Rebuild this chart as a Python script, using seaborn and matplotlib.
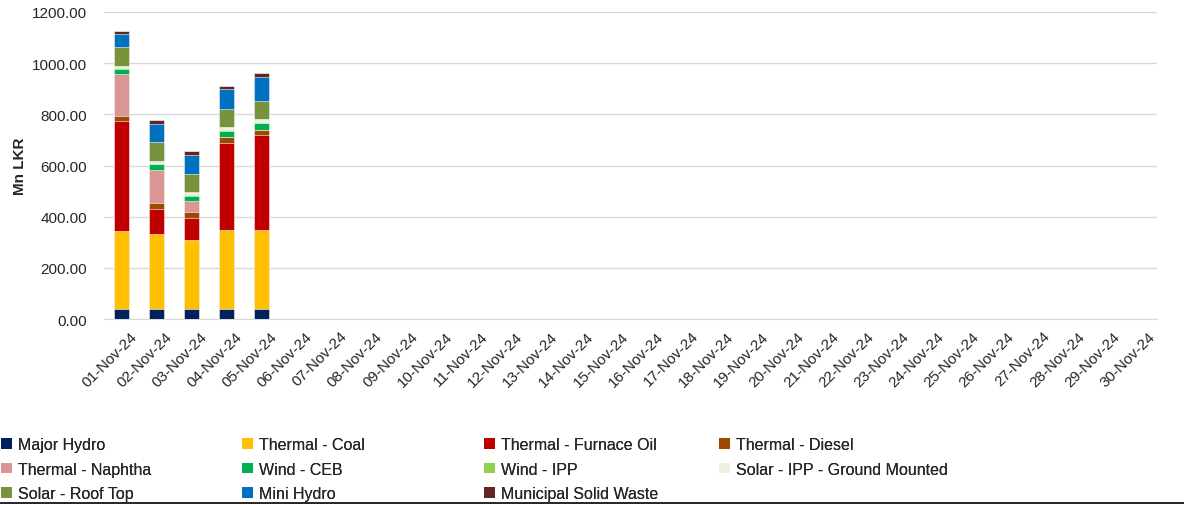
import numpy as np
import pandas as pd
import matplotlib
matplotlib.use("Agg")
import matplotlib.pyplot as plt
import matplotlib.transforms as mtransforms
import seaborn as sns
from matplotlib.patches import Patch

dates = [f"{d:02d}-Nov-24" for d in range(1, 31)]
series = ["Major Hydro", "Thermal - Coal", "Thermal - Furnace Oil", "Thermal - Diesel",
          "Thermal - Naphtha", "Wind - CEB", "Wind - IPP", "Solar - IPP - Ground Mounted",
          "Solar - Roof Top", "Mini Hydro", "Municipal Solid Waste"]
colors = ["#002060", "#FFC000", "#C00000", "#9C4A00", "#DA9694", "#00B050",
          "#92D050", "#EBF1DE", "#77933C", "#0070C0", "#632523"]

major_hydro = [39, 39, 39, 39, 39]
coal = [305, 292, 269, 308, 308]
furnace_oil = [429, 100, 87, 341, 371]
diesel = [22, 22, 22, 22, 21]
naphtha = [163, 130, 44, 0, 0]
wind_ceb = [21, 22, 21, 26, 26]
wind_ipp = [2, 2, 2, 2, 2]
solar_ipp = [9, 11, 11, 11, 13]
roof_top = [72, 72, 70, 70, 71]
mini_hydro = [51, 72, 77, 81, 96]
msw = [12, 15, 13, 12, 13]

data = [major_hydro, coal, furnace_oil, diesel, naphtha, wind_ceb, wind_ipp,
        solar_ipp, roof_top, mini_hydro, msw]

n = len(dates)
df = pd.DataFrame({s: v + [0] * (n - len(v)) for s, v in zip(series, data)})
df["date"] = dates
cum = df[series].cumsum(axis=1)

sns.set_style("white")
plt.rcParams["font.family"] = ["Liberation Sans", "DejaVu Sans"]

fig = plt.figure(figsize=(11.84, 5.06), dpi=100)
ax = fig.add_axes([104 / 1184, 1 - 320 / 506, 1053 / 1184, 307 / 506])

for s, c in reversed(list(zip(series, colors))):
    sns.barplot(x=df["date"], y=cum[s], color=c, ax=ax, width=0.43,
                edgecolor="white", linewidth=0.4, saturation=1, zorder=3)

ax.set_ylim(0, 1200)
ax.set_xlim(-0.5, n - 0.5)
ax.set_yticks(np.arange(0, 1201, 200))
ax.set_yticklabels([f"{v:.2f}" for v in np.arange(0, 1201, 200)], fontsize=11)
ax.yaxis.grid(True, color="#D9D9D9", linewidth=1, zorder=0)
ax.set_axisbelow(True)
for sp in ["top", "right", "left"]:
    ax.spines[sp].set_visible(False)
ax.spines["bottom"].set_color("#D9D9D9")
ax.tick_params(axis="y", length=4, color="#D9D9D9", pad=8)
ax.tick_params(axis="x", length=0, pad=4)
ax.set_xticks(range(n))
ax.set_xticklabels(dates, rotation=45, ha="right", rotation_mode="anchor", fontsize=11)
offset = mtransforms.ScaledTranslation(8 / 100, -4 / 100, fig.dpi_scale_trans)
for lab in ax.get_xticklabels():
    lab.set_transform(lab.get_transform() + offset)
ax.set_xlabel("")
ax.set_ylabel("")
fig.text(20 / 1184, 1 - 166 / 506, "Mn LKR", rotation=90, fontsize=11, fontweight="bold",
         ha="center", va="center")

# legend: 4 columns, row-major order
col_x = [-2 / 1184, 239 / 1184, 481 / 1184, 716 / 1184]
for ci in range(4):
    idx = list(range(ci, len(series), 4))
    handles = [Patch(facecolor=colors[i], edgecolor="none") for i in idx]
    labels = [series[i] for i in idx]
    leg = fig.legend(handles, labels, loc="upper left",
                     bbox_to_anchor=(col_x[ci], 1 - 435 / 506),
                     ncol=1, frameon=False, fontsize=11.5, handlelength=0.65,
                     handleheight=0.65, handletextpad=0.4, labelspacing=0.6,
                     borderpad=0.2, borderaxespad=0)
    fig.add_artist(leg)

fig.add_artist(plt.Line2D([0, 1], [1 - 503.5 / 506] * 2, color="black", linewidth=1.2,
                          transform=fig.transFigure))

fig.savefig("out.png", dpi=100)
